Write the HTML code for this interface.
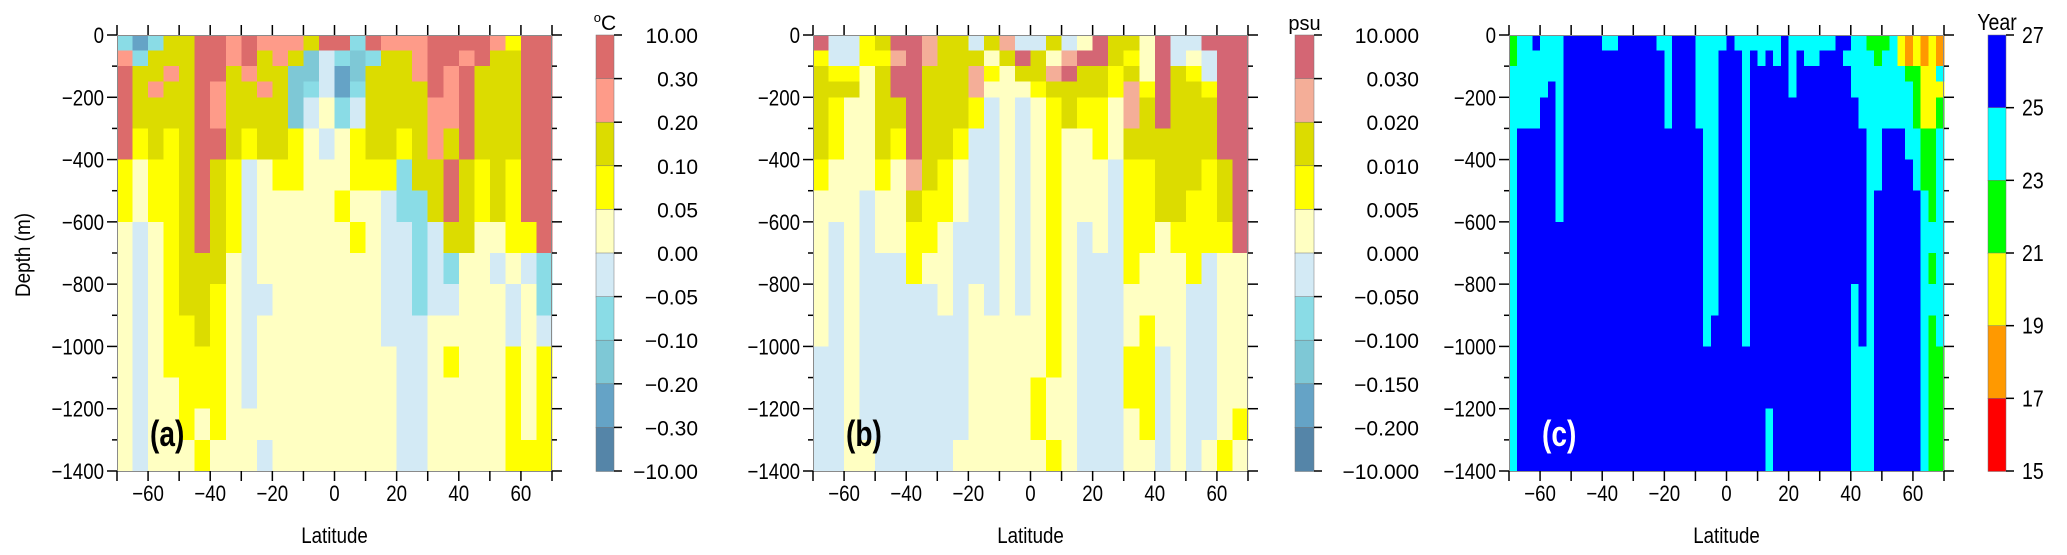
<!DOCTYPE html>
<html><head><meta charset="utf-8">
<style>
html,body{margin:0;padding:0;background:#fff;}
svg{display:block;}
text{font-family:"Liberation Sans",sans-serif;fill:#000;}
</style></head>
<body>
<svg id="fig" width="2067" height="555" viewBox="0 0 2067 555" xmlns="http://www.w3.org/2000/svg"></svg>
<script>
// ---------- data ----------
const latTicks = [-60,-40,-20,0,20,40,60];
const depthTicks = [0,-200,-400,-600,-800,-1000,-1200,-1400];
const depthEdges = [0,50,100,150,200,300,400,500,600,700,800,900,1000,1100,1200,1300,1400];
const tempLabels = ["10.00","0.30","0.20","0.10","0.05","0.00","-0.05","-0.10","-0.20","-0.30","-10.00"];
const salLabels = ["10.000","0.030","0.020","0.010","0.005","0.000","-0.050","-0.100","-0.150","-0.200","-10.000"];
const yearLabels = ["27","25","23","21","19","17","15"];
const divColors = ["#5585a8","#65a3c6","#7ec8d6","#8adce6","#d3eaf5","#ffffc2","#ffff00","#dcdc00","#fe9b89","#dc6b6b"];
const salColors = ["#5585a8","#65a3c6","#7ec8d6","#8adce6","#d3eaf5","#ffffc2","#ffff00","#dcdc00","#f4ae98","#d46674"];
const yearColors = ["#ff0000","#ff9900","#ffff00","#00ff00","#00ffff","#0000ff"];
// temperature change class per depth band (rows) x 5-degree latitude band (cols)
const tempRows = [
"3137799 8988879 9398889 9998699",
"8377799 8978724 3237789 9897799",
"9778799 7877224 1277789 8977799",
"9787798 7787234 1377779 8977799",
"9777798 7777245 3477778 8977799",
"9676799 7677654 5677678 7977799",
"6566797 6456655 5666377 9767699",
"6566797 6455555 6554337 9767699",
"5456797 6455555 5654434 7755669",
"5456777 5455555 5554434 3554543",
"5456776 5445555 5554434 4555453",
"5456676 5455555 5554445 5555454",
"5456666 5455555 5555445 6555656",
"5455666 5455555 5555445 5555656",
"5455656 5555555 5555445 5555656",
"5455565 5545555 5555445 5555666"];
const salRows = [
"9446799 8774784 4745977 5944999",
"6446689 8777579 7589976 5945499",
"7665799 7778657 7897767 5976499",
"7775799 7778555 6777768 6977699",
"7655779 7776454 5676658 7977799",
"7655769 7764454 5655657 7777799",
"6555658 7654454 5655546 6777679",
"5554557 6654454 5655546 6776679",
"5454556 6544454 5654546 6566669",
"5454446 5544454 5654446 5556455",
"5454444 4545454 5654445 5554455",
"5454444 4445555 5654445 6554455",
"4454444 4445555 5654446 6454455",
"4454444 4445555 6554446 6454455",
"4454444 4445555 6554445 6454456",
"4455444 4455555 5654445 5454565"];
// year class per depth band x 2.5-degree latitude band
const yearRows = [
"34454445 55554455 55544555 44445444 44454444 44554433 34212121",
"34444445 55555555 55554555 44455545 45454544 55544443 44212121",
"44444445 55555555 55554555 44455545 55554555 55554444 44433224",
"44444545 55555555 55554555 44455545 55554555 55554444 44443222",
"44445545 55555555 55554555 44455545 55555555 55555444 44443223",
"45555545 55555555 55555555 54455545 55555555 55555544 55544334",
"45555545 55555555 55555555 54455545 55555555 55555544 55554334",
"45555545 55555555 55555555 54455545 55555555 55555545 55555434",
"45555555 55555555 55555555 54455545 55555555 55555545 55555444",
"45555555 55555555 55555555 54455545 55555555 55555545 55555434",
"45555555 55555555 55555555 54455545 55555555 55554545 55555444",
"45555555 55555555 55555555 54555545 55555555 55554545 55555434",
"45555555 55555555 55555555 55555555 55555555 55554445 55555433",
"45555555 55555555 55555555 55555555 55555555 55554445 55555433",
"45555555 55555555 55555555 55555555 54555555 55554445 55555433",
"45555555 55555555 55555555 55555555 54555555 55554445 55555433"];

// ---------- drawing ----------
const NS = "http://www.w3.org/2000/svg";
const svg = document.getElementById("fig");
function mk(tag, attrs, parent){
  const e = document.createElementNS(NS, tag);
  for (const k in attrs) e.setAttribute(k, attrs[k]);
  (parent||svg).appendChild(e);
  return e;
}
function txt(parent, s, x, y, size, anchor, sx, weight, fill){
  const t = mk("text", {transform:`translate(${x},${y}) scale(${sx},1)`, "font-size":size, "text-anchor":anchor}, parent);
  if (weight) t.setAttribute("font-weight", weight);
  if (fill) t.setAttribute("style", "fill:"+fill);
  t.textContent = s;
  return t;
}
const PY = 35, PH = 436, PW = 435;

function drawPanel(id, x0, rows, colors, tag, tagColor, showYTitle){
  const g = mk("g", {});
  
  
  const xs = lat => x0 + (lat + 70) / 140 * PW;
  const ys = d => PY + d / 1400 * PH;
  const field = mk("g", {"shape-rendering":"crispEdges"}, g);
  
  
  rows.forEach((row, r) => {
    const codes = row.replace(/ /g, "");
    const step = 140 / codes.length;
    for (let c = 0; c < codes.length; c++){
      const v = +codes[c];
      const xa = xs(-70 + c*step), xb = xs(-70 + (c+1)*step);
      const ya = ys(depthEdges[r]), yb = ys(depthEdges[r+1]);
      const cell = mk("rect", {x:xa, y:ya, width:xb-xa+0.6, height:yb-ya+0.6, fill:colors[v]}, field);
      
      
    }
  });
  const frame = mk("rect", {x:x0+0.5, y:PY+0.5, width:PW-1, height:PH, fill:"none", stroke:"#8a8a8a", "stroke-width":1}, g);
  
  
  const ax = mk("g", {stroke:"#000", "stroke-width":1.5}, g);
  
  
  for (let lat = -70; lat <= 70; lat += 10){
    const x = xs(lat);
    mk("line", {x1:x, x2:x, y1:PY+PH, y2:PY+PH+10}, ax);
    mk("line", {x1:x, x2:x, y1:PY, y2:PY-10}, ax);
  }
  for (let d = 0; d <= 1400; d += 100){
    const y = ys(d), L = (d % 200 === 0) ? 10 : 5;
    mk("line", {x1:x0-L, x2:x0, y1:y, y2:y}, ax);
    mk("line", {x1:x0+PW, x2:x0+PW+L, y1:y, y2:y}, ax);
  }
  latTicks.forEach(lat => {
    const t = txt(g, String(lat).replace("-", "\u2212"), xs(lat), 501, 22, "middle", 0.85);
    
    
  });
  depthTicks.forEach(d => {
    const t = txt(g, String(d).replace("-", "\u2212"), x0-13, ys(-d)+8, 22, "end", 0.85);
    
    
  });
  const xt = txt(g, "Latitude", x0 + PW/2, 543, 22, "middle", 0.85);
  
  
  if (showYTitle){
    const yt = mk("text", {transform:"translate(30,255) rotate(-90) scale(0.9,1)", "font-size":21, "text-anchor":"middle"}, g);
    yt.textContent = "Depth (m)";
    
    
  }
  const pl = txt(g, tag, x0 + 33, 446, 36, "start", 0.78, "bold", tagColor);
  
  
}

function drawColorbar(id, x0, w, colors, labels, unit, labelX, anchor, narrow){
  const g = mk("g", {});
  
  
  const n = labels.length - 1, segH = PH / n;
  for (let i = 0; i < n; i++){
    const c = colors[colors.length - 1 - i];
    const r = mk("rect", {x:x0, y:PY + i*segH, width:w, height:segH+0.5, fill:c, stroke:"#777", "stroke-width":0.5}, g);
    
    
  }
  labels.forEach((s, i) => {
    const y = PY + i*segH;
    mk("line", {x1:x0+w, x2:x0+w+8, y1:y, y2:y, stroke:"#000", "stroke-width":1.5}, g);
    const t = txt(g, s.replace("-", "\u2212"), labelX, y+8, narrow ? 23 : 21, anchor, narrow ? 0.85 : 1);
    
    
  });
  let u;
  if (unit === "degC"){
    u = mk("text", {x:x0+w/2, y:30, "font-size":21, "text-anchor":"middle"}, g);
    u.innerHTML = '<tspan font-size="13" dy="-8">o</tspan><tspan dy="8">C</tspan>';
  } else {
    u = txt(g, unit, x0+w/2, 30, unit === "Year" ? 23 : 20, "middle", unit === "Year" ? 0.85 : 1);
  }
  
  
}

drawPanel("a", 117, tempRows, divColors, "(a)", "#000", true);
drawPanel("b", 813, salRows, salColors, "(b)", "#000", false);
drawPanel("c", 1509, yearRows, yearColors, "(c)", "#fff", false);
drawColorbar("temperature", 596, 18, divColors, tempLabels, "degC", 698, "end", false);
drawColorbar("salinity", 1295, 19, salColors, salLabels, "psu", 1419, "end", false);
drawColorbar("year", 1988, 18, yearColors, yearLabels, "Year", 2022, "start", true);
</script>
</body></html>
